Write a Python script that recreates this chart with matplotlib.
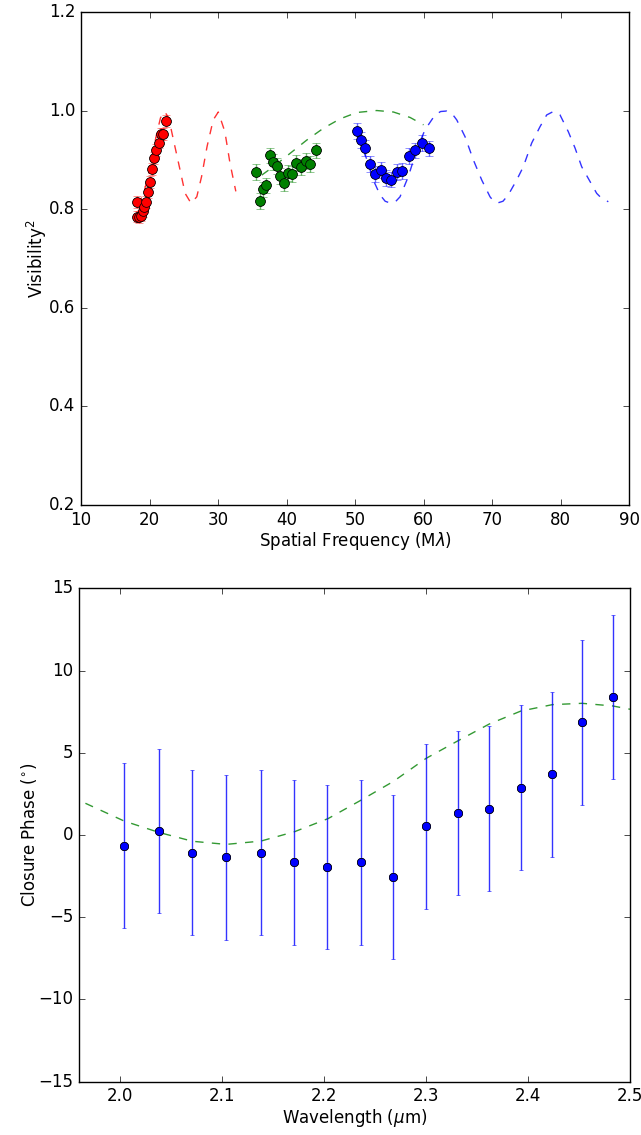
import numpy as np
import matplotlib
matplotlib.use('Agg')
import matplotlib.pyplot as plt

# --- visibility data (spatial frequency in Mlambda, V^2) ---
red_x = [18.13, 18.22, 18.47, 18.76, 19.00, 19.25, 19.49, 19.78,
         20.03, 20.32, 20.66, 20.95, 21.34, 21.73, 21.97, 22.41]
red_y = [0.814, 0.785, 0.784, 0.787, 0.797, 0.805, 0.815, 0.834,
         0.855, 0.882, 0.903, 0.920, 0.935, 0.952, 0.953, 0.978]
red_err = [0.012] * 16

green_x = [35.59, 36.13, 36.52, 37.00, 37.54, 37.98, 38.56, 39.09,
           39.59, 40.26, 40.76, 41.43, 42.07, 42.85, 43.43, 44.26]
green_y = [0.875, 0.817, 0.840, 0.848, 0.909, 0.896, 0.887, 0.867,
           0.853, 0.874, 0.871, 0.894, 0.885, 0.898, 0.891, 0.919]
green_err = [0.016] * 16

blue_x = [50.24, 50.83, 51.50, 52.19, 52.96, 53.75, 54.53, 55.26,
          56.09, 56.91, 57.84, 58.76, 59.78, 60.76]
blue_y = [0.959, 0.940, 0.924, 0.892, 0.871, 0.880, 0.863, 0.860,
          0.876, 0.878, 0.908, 0.919, 0.934, 0.923]
blue_err = [0.016] * 14

# model curves
red_mx = [18.1, 18.6, 19.2, 19.8, 20.4, 21.0, 21.6, 22.2, 22.8, 23.5,
          24.45, 25.2, 26.06, 26.9, 27.6, 28.4, 29.3, 30.04, 31.0, 31.75, 32.6]
red_my = [0.812, 0.815, 0.835, 0.868, 0.910, 0.950, 0.985, 0.998, 0.985, 0.940,
          0.880, 0.832, 0.812, 0.825, 0.866, 0.927, 0.981, 0.997, 0.957, 0.893, 0.836]

green_mx = [36.38, 38.07, 40.51, 42.95, 45.38, 47.81, 50.25, 53.17, 55.6, 58.03, 60.0]
green_my = [0.869, 0.886, 0.913, 0.940, 0.964, 0.983, 0.996, 1.000, 0.997, 0.986, 0.971]

blue_mx = [50.48, 51.2, 51.94, 52.67, 53.65, 54.4, 55.21, 55.9, 56.57, 57.78,
           59.0, 60.22, 61.68, 62.5, 63.38, 64.2, 64.85, 66.06, 67.27, 68.5,
           69.71, 70.3, 70.92, 71.6, 72.38, 73.6, 74.57, 75.79, 77.0, 77.98,
           78.95, 79.93, 81.14, 82.12, 83.09, 84.31, 85.28, 86.0, 86.98]
blue_my = [0.950, 0.920, 0.893, 0.859, 0.829, 0.816, 0.812, 0.815, 0.825, 0.866,
           0.920, 0.961, 0.991, 0.998, 0.999, 0.993, 0.981, 0.947, 0.900, 0.859,
           0.825, 0.815, 0.813, 0.816, 0.829, 0.859, 0.886, 0.934, 0.967, 0.991,
           0.998, 0.991, 0.957, 0.924, 0.886, 0.856, 0.832, 0.822, 0.815]

# --- closure phase data ---
wave = [2.004, 2.038, 2.071, 2.104, 2.138, 2.171, 2.203, 2.236,
        2.268, 2.300, 2.331, 2.362, 2.393, 2.424, 2.453, 2.483]
cp = [-0.65, 0.26, -1.07, -1.36, -1.07, -1.66, -1.93, -1.66,
      -2.57, 0.53, 1.34, 1.60, 2.88, 3.69, 6.85, 8.41]
cp_err = [5.0] * 16

cp_mx = [1.966, 2.004, 2.038, 2.071, 2.104, 2.138, 2.171, 2.204, 2.236,
         2.268, 2.300, 2.331, 2.362, 2.393, 2.424, 2.453, 2.483, 2.500]
cp_my = [1.93, 0.85, 0.16, -0.38, -0.57, -0.37, 0.20, 1.00, 2.11,
         3.26, 4.66, 5.72, 6.75, 7.54, 7.93, 8.01, 7.85, 7.65]


plt.style.use('classic')
plt.rcParams['mathtext.fontset'] = 'dejavusans'
plt.rcParams['font.family'] = ['DejaVu Sans']

fig = plt.figure(figsize=(6.41, 11.35), dpi=100, facecolor='white')
ax1 = fig.add_axes([0.1264, 0.5551, 0.8549, 0.4344])
ax2 = fig.add_axes([0.1237, 0.0470, 0.8591, 0.4346])

ax1.plot(red_mx, red_my, '--', color='r', alpha=0.8)
ax1.plot(green_mx, green_my, '--', color='g', alpha=0.8)
ax1.plot(blue_mx, blue_my, '--', color='b', alpha=0.8)
for x, y, e, c in [(red_x, red_y, red_err, 'r'),
                   (green_x, green_y, green_err, 'g'),
                   (blue_x, blue_y, blue_err, 'b')]:
    ax1.errorbar(x, y, yerr=e, fmt='o', color=c, mec='k', mew=0.5,
                 ms=7, ecolor=c, elinewidth=1.0, capsize=3, alpha=0.6)
    ax1.errorbar(x, y, fmt='o', color=c, mec='k', mew=0.5, ms=7)
ax1.set_xlim(10, 90)
ax1.set_ylim(0.2, 1.2)
ax1.set_yticks(np.arange(0.2, 1.21, 0.2))
ax1.set_xlabel(r'Spatial Frequency (M$\lambda$)', labelpad=1)
ax1.set_ylabel(r'Visibility$^2$', labelpad=0)

ax2.plot(cp_mx, cp_my, '--', color='g', alpha=0.8)
ax2.errorbar(wave, cp, yerr=cp_err, fmt='o', color='b', mec='k', mew=0.5,
             ms=6, ecolor='b', elinewidth=1.0, capsize=1.5, alpha=0.8)
ax2.errorbar(wave, cp, fmt='o', color='b', mec='k', mew=0.5, ms=6)
ax2.set_xlim(1.96, 2.5)
ax2.set_ylim(-15, 15)
ax2.set_xticks([2.0, 2.1, 2.2, 2.3, 2.4, 2.5])
ax2.set_xlabel(r'Wavelength ($\mu$m)', labelpad=1)
ax2.set_ylabel(r'Closure Phase ($^{\circ}$)', labelpad=0)

fig.savefig('out.png', dpi=100, facecolor='white')
